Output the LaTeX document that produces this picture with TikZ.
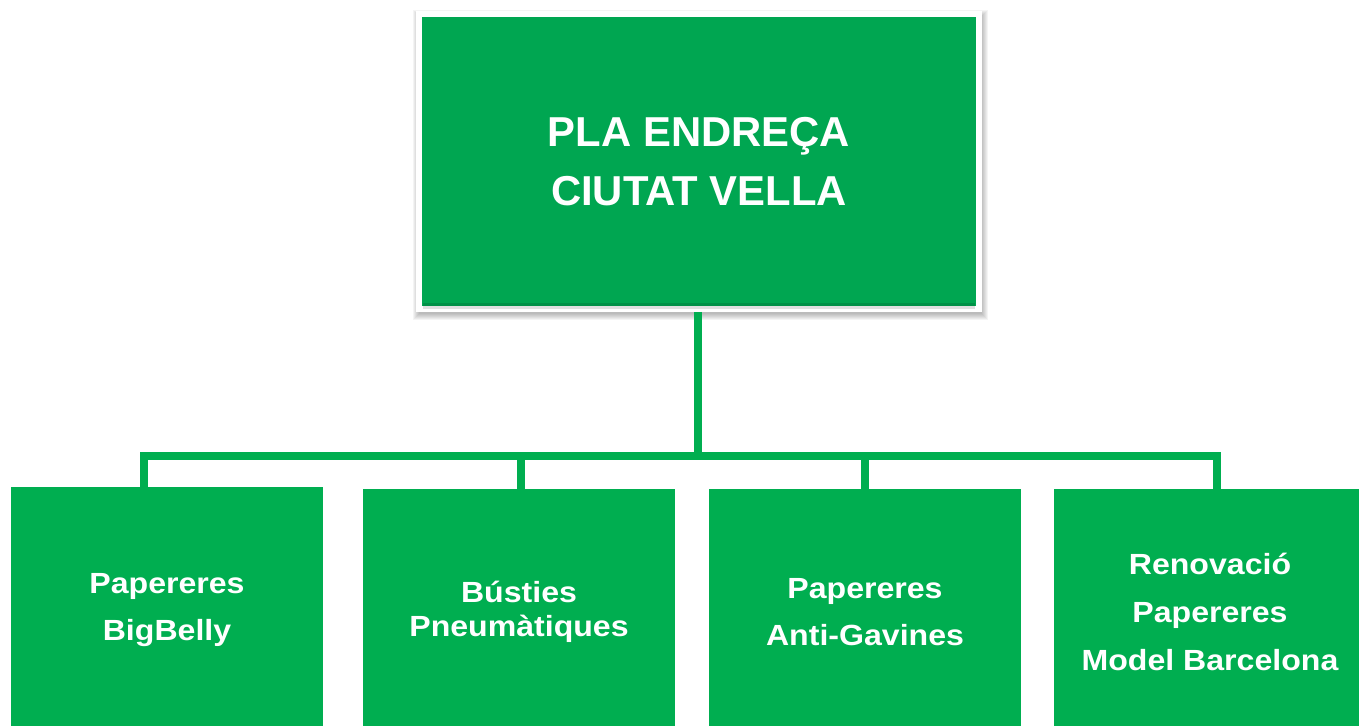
\documentclass[tikz,border=0pt]{standalone}
\usepackage{fontspec}
\setmainfont{Liberation Sans}
\newfontfamily\itemfont{Liberation Sans}[FakeStretch=1.1]
\usepackage{tikz}
\usetikzlibrary{calc,positioning}

\definecolor{planGreen}{HTML}{00A651}
\definecolor{itemGreen}{HTML}{00AE50}

\begin{document}
\begin{tikzpicture}[
  x=0.02cm, y=-0.02cm,
  plan/.style={fill=planGreen, draw=white, line width=0.12cm, inner sep=0pt,
    minimum width=11.2cm, minimum height=5.9cm, align=center, text=white,
    font=\bfseries\fontsize{23.8}{34}\selectfont},
  item/.style={fill=itemGreen, inner sep=0pt, minimum width=6.24cm,
    minimum height=4.92cm, align=center, text=white,
    font=\itemfont\bfseries\fontsize{16.6}{27.2}\selectfont},
  link/.style={draw=itemGreen, line width=0.16cm}
]
\useasboundingbox (0,0) rectangle (1359,725);

% --- soft shadow behind the main box ---
\foreach \s in {1,...,7} {
  \fill[black, opacity=0.045]
    ({419-\s+1},{14-\s+3}) rectangle ({979+\s+2},{309+\s+4});
}

% --- main box ---
\node[plan] (plan) at (699,161.5) {PLA ENDREÇA\\CIUTAT VELLA};
\fill[black, opacity=0.12] ($(plan.south west)+(7,-9)$) rectangle ($(plan.south east)+(-7,-3)$);

% --- actions (boxes run on past the lower edge) ---
\node[item] (b1) at (167,610) {Papereres\\BigBelly};
\node[item, font=\itemfont\bfseries\fontsize{16.6}{19.3}\selectfont] (b2) at (519,612) {Bústies\\Pneumàtiques};
\node[item] (b3) at (865,612) {Papereres\\Anti-Gavines};
\node[item] (b4) at (1210,612) {Renovació\\Papereres\\Model Barcelona};

% --- connectors ---
\coordinate (bus) at (698,456);
\coordinate (d1) at (144,456);
\coordinate (d2) at (521,456);
\coordinate (d3) at (865,456);
\coordinate (d4) at (1217,456);

\draw[link] (plan.south -| bus) -- (bus);
\draw[link] (d1) -- (d4);
\foreach \i in {1,...,4} {
  \draw[link] ($(d\i)+(0,-4)$) -- (d\i |- b\i.north);
}

\end{tikzpicture}
\end{document}
